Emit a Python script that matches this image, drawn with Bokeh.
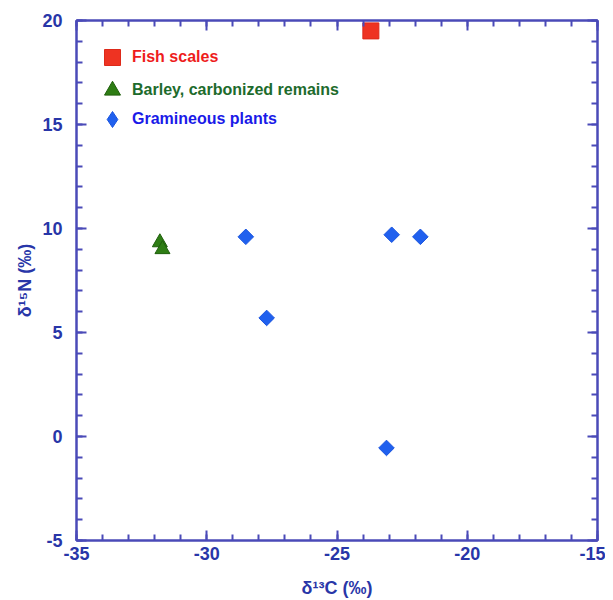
import math
from bokeh.plotting import figure
from bokeh.models import (ColumnDataSource, SingleIntervalTicker, LinearAxis, Range1d,
                          Legend, LegendItem, CustomJSTickFormatter)
from bokeh.embed import file_html
from bokeh.resources import INLINE

# ---- data ----
fish_x = [-23.7]
fish_y = [19.5]
barley_x = [-31.8, -31.7]
barley_y = [9.33, 9.0]
gram_x = [-28.5, -27.7, -22.9, -21.8, -23.1]
gram_y = [9.6, 5.7, 9.7, 9.6, -0.55]

legend_labels = ["Fish scales", "Barley, carbonized remains", "Gramineous plants"]

AXIS_COL = "#4a4ab8"
LABEL_COL = "#2836a8"
FONT = "Liberation Sans"

p = figure(width=605, height=600, output_backend="svg", toolbar_location=None,
           x_range=Range1d(-35, -15), y_range=Range1d(-5, 20),
           min_border_left=76, min_border_top=20, min_border_right=8,
           min_border_bottom=60, x_axis_location=None, y_axis_location=None)
p.xgrid.visible = False
p.ygrid.visible = False
p.outline_line_color = AXIS_COL
p.outline_line_width = 2
p.background_fill_color = "white"
p.border_fill_color = "white"

plain_fmt = CustomJSTickFormatter(code="return tick.toString();")
empty_fmt = CustomJSTickFormatter(code="return '';")


def style_axis(ax, labels=True):
    ax.axis_line_color = AXIS_COL
    ax.axis_line_width = 2
    ax.major_tick_line_color = AXIS_COL
    ax.minor_tick_line_color = AXIS_COL
    ax.major_tick_line_width = 2
    ax.minor_tick_line_width = 2
    ax.major_tick_in = 10
    ax.major_tick_out = 0
    ax.minor_tick_in = 6
    ax.minor_tick_out = 0
    ax.major_label_text_font = FONT
    ax.major_label_text_font_style = "bold"
    ax.major_label_text_font_size = "18px"
    ax.major_label_text_color = LABEL_COL
    if labels:
        ax.formatter = plain_fmt
    else:
        ax.formatter = empty_fmt
        ax.major_label_standoff = 0


xb = LinearAxis(ticker=SingleIntervalTicker(interval=5, num_minor_ticks=5),
                axis_label="δ¹³C (‰)")
style_axis(xb)
xb.major_label_standoff = 6
xb.axis_label_text_font = FONT
xb.axis_label_text_font_style = "bold"
xb.axis_label_text_font_size = "18px"
xb.axis_label_text_color = LABEL_COL
xb.axis_label_standoff = 15
p.add_layout(xb, "below")

yl = LinearAxis(ticker=SingleIntervalTicker(interval=5, num_minor_ticks=5),
                axis_label="δ¹⁵N (‰)")
style_axis(yl)
yl.major_label_standoff = 14
yl.axis_label_text_font = FONT
yl.axis_label_text_font_style = "bold"
yl.axis_label_text_font_size = "18px"
yl.axis_label_text_color = LABEL_COL
yl.axis_label_standoff = 4
p.add_layout(yl, "left")

xtop = LinearAxis(ticker=SingleIntervalTicker(interval=5, num_minor_ticks=5))
style_axis(xtop, labels=False)
p.add_layout(xtop, "above")

yr = LinearAxis(ticker=SingleIntervalTicker(interval=5, num_minor_ticks=5))
style_axis(yr, labels=False)
p.add_layout(yr, "right")

src_f = ColumnDataSource(dict(x=fish_x, y=fish_y))
src_b = ColumnDataSource(dict(x=barley_x, y=barley_y))
src_g = ColumnDataSource(dict(x=gram_x, y=gram_y))

FISH_COL = "#ee3322"
BARLEY_COL = "#2e7d14"
GRAM_COL = "#2060ee"

rf = p.scatter("x", "y", source=src_f, marker="square", size=16,
               fill_color=FISH_COL, line_color="#dd2a1a", line_width=1)
rb = p.scatter("x", "y", source=src_b, marker="triangle", size=15,
               fill_color=BARLEY_COL, line_color="#1f5f0c", line_width=1)
rg = p.scatter("x", "y", source=src_g, marker="square", size=11, angle=math.pi / 4,
               fill_color=GRAM_COL, line_color="#1a55e0", line_width=1)

# legend-only proxy renderer for the diamond swatch (legend glyphs ignore angle);
# its single point is NaN so nothing is drawn in the plot area
proxy_src = ColumnDataSource(dict(x=[float("nan")], y=[float("nan")]))
rg_proxy = p.scatter("x", "y", source=proxy_src, marker="diamond", size=11,
                     fill_color=GRAM_COL, line_color="#1a55e0", line_width=1)


def add_legend(label, renderer, color, loc):
    lg = Legend(items=[LegendItem(label=label, renderers=[renderer])],
                location=loc, orientation="vertical",
                label_text_font=FONT, label_text_font_style="bold",
                label_text_font_size="16px", label_text_color=color,
                glyph_width=40, glyph_height=40, label_standoff=-1,
                padding=0, margin=0, spacing=0,
                border_line_color=None, background_fill_alpha=0)
    p.add_layout(lg, "center")


add_legend(legend_labels[0], rf, "#ee1c1c", (16, 463))
add_legend(legend_labels[1], rb, "#1d6b2c", (16, 430))
add_legend(legend_labels[2], rg_proxy, "#1a1ae8", (16, 401))

open("out.html", "w").write(file_html(p, INLINE))
